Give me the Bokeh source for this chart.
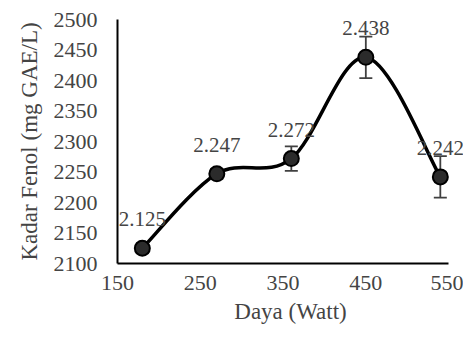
import numpy as np
from bokeh.plotting import figure
from bokeh.models import ColumnDataSource, Range1d, FixedTicker, Label
from bokeh.embed import file_html
from bokeh.resources import INLINE

# ---- data ----
daya = [180, 270, 360, 450, 540]
fenol = [2125, 2247, 2272, 2438, 2242]
err = [8, 8, 20, 34, 34]
value_labels = ["2.125", "2.247", "2.272", "2.438", "2.242"]
x_ticks = [150, 250, 350, 450, 550]
y_ticks = [2100, 2150, 2200, 2250, 2300, 2350, 2400, 2450, 2500]

FONT = "Liberation Serif"

# frame extends a bit past 550 so the last value label is not clipped;
# the axis line itself is bounded to 150..550
p = figure(width=463, height=332, output_backend="svg", toolbar_location=None,
           x_range=Range1d(150, 568), y_range=Range1d(2100, 2500),
           min_border_left=117, min_border_right=0, min_border_top=19,
           min_border_bottom=69)
p.outline_line_color = None
p.grid.visible = False

for ax in (p.xaxis[0], p.yaxis[0]):
    ax.axis_line_width = 2
    ax.axis_line_color = "black"
    ax.major_tick_line_color = None
    ax.minor_tick_line_color = None
    ax.major_tick_out = 0
    ax.major_tick_in = 0
    ax.major_label_text_font = FONT
    ax.major_label_text_font_size = "22px"
    ax.axis_label_text_font = FONT
    ax.axis_label_text_font_size = "23px"
    ax.axis_label_text_font_style = "normal"

p.xaxis.bounds = (150, 550)
p.xaxis.ticker = FixedTicker(ticks=x_ticks)
p.yaxis.ticker = FixedTicker(ticks=y_ticks)
p.xaxis.axis_label = "Daya (Watt)"
p.yaxis.axis_label = "Kadar Fenol (mg GAE/L)"
p.xaxis.major_label_standoff = 12
p.yaxis.major_label_standoff = 20
p.xaxis.axis_label_standoff = 6
p.yaxis.axis_label_standoff = 9

# smoothed line (Catmull-Rom style bezier through the data points)
xa = np.array(daya, dtype=float)
ya = np.array(fenol, dtype=float)
xp = np.concatenate([[xa[0]], xa, [xa[-1]]])
yp = np.concatenate([[ya[0]], ya, [ya[-1]]])
n = len(xa)
bz = dict(x0=[], y0=[], x1=[], y1=[], cx0=[], cy0=[], cx1=[], cy1=[])
for i in range(n - 1):
    j = i + 1
    bz["x0"].append(xa[i]); bz["y0"].append(ya[i])
    bz["x1"].append(xa[i + 1]); bz["y1"].append(ya[i + 1])
    bz["cx0"].append(xa[i] + (xp[j + 1] - xp[j - 1]) / 6)
    bz["cy0"].append(ya[i] + (yp[j + 1] - yp[j - 1]) / 6)
    bz["cx1"].append(xa[i + 1] - (xp[j + 2] - xp[j]) / 6)
    bz["cy1"].append(ya[i + 1] - (yp[j + 2] - yp[j]) / 6)
p.bezier(x0="x0", y0="y0", x1="x1", y1="y1", cx0="cx0", cy0="cy0",
         cx1="cx1", cy1="cy1", source=ColumnDataSource(bz),
         line_color="black", line_width=3.5)

src = ColumnDataSource(dict(
    x=daya, y=fenol,
    lo=[v - e for v, e in zip(fenol, err)],
    hi=[v + e for v, e in zip(fenol, err)],
))

# error bars
p.segment(x0="x", y0="lo", x1="x", y1="hi", source=src,
          line_color="#404040", line_width=1.8)
p.scatter(x="x", y="lo", source=src, marker="dash", size=13,
          line_color="#404040", line_width=1.8)
p.scatter(x="x", y="hi", source=src, marker="dash", size=13,
          line_color="#404040", line_width=1.8)

# markers
p.scatter(x="x", y="y", source=src, size=15, marker="circle",
          fill_color="#2b2b2b", line_color="black", line_width=2)

# value labels
for xv, yv, lab in zip(daya, fenol, value_labels):
    p.add_layout(Label(x=xv, y=yv, text=lab, y_offset=29,
                       text_align="center", text_baseline="middle",
                       text_font=FONT, text_font_size="21px"))

open("out.html", "w").write(file_html(p, INLINE))
